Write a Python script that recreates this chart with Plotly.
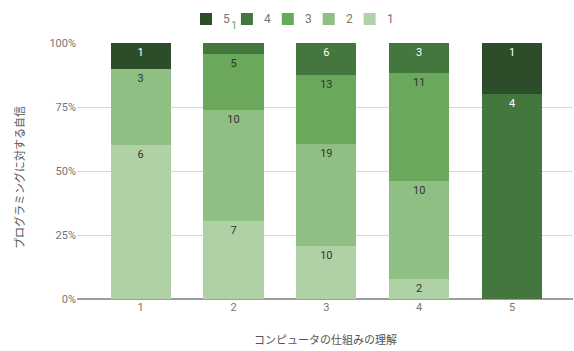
import plotly.graph_objects as go

# Stacked 100% bars: understanding of how computers work (x) vs. confidence in programming (stack)
categories = ["1", "2", "3", "4", "5"]
levels = ["1", "2", "3", "4", "5"]
counts = {
    "1": [6, 7, 10, 2, 0],
    "2": [3, 10, 19, 10, 0],
    "3": [0, 5, 13, 11, 0],
    "4": [0, 1, 6, 3, 4],
    "5": [1, 0, 0, 0, 1],
}
colors = {
    "1": "#b0d1a6",
    "2": "#8fbf83",
    "3": "#6aa85c",
    "4": "#43773e",
    "5": "#2c4c2a",
}
label_colors = {"1": "#333333", "2": "#333333", "3": "#333333", "4": "#ffffff", "5": "#ffffff"}
y_ticks = [0, 25, 50, 75, 100]
y_tick_labels = ["0%", "25%", "50%", "75%", "100%"]

totals = [sum(counts[l][i] for l in levels) for i in range(len(categories))]

FONT = "Roboto, 'Noto Sans CJK JP', sans-serif"

# plot-area geometry in pixels, used to place the hand-drawn legend
W, H = 574, 351
M_L, M_R, M_T, M_B = 77, 1, 43, 52
PW, PH = W - M_L - M_R, H - M_T - M_B


def px_x(px):
    return (px - M_L) / PW


def px_y(py):
    return (H - M_B - py) / PH


fig = go.Figure()
for lvl in levels:
    vals = counts[lvl]
    # label a segment only when it is tall enough to hold the number
    texts = [
        str(v) if v > 0 and v / t >= 0.05 else ""
        for v, t in zip(vals, totals)
    ]
    fig.add_trace(go.Bar(
        x=categories,
        y=vals,
        name=lvl,
        text=texts,
        texttemplate="%{text}",
        textposition="inside",
        insidetextanchor="end",
        textangle=0,
        insidetextfont=dict(family=FONT, size=11, color=label_colors[lvl]),
        marker=dict(color=colors[lvl], line=dict(width=0)),
        width=0.647,
        hoverinfo="skip",
        showlegend=False,
    ))

# compact horizontal legend, highest level first
shapes = []
annotations = []
legend_x0 = 200
legend_step = 40.9
for i, lvl in enumerate(reversed(levels)):
    sx = legend_x0 + i * legend_step
    shapes.append(dict(
        type="rect", xref="paper", yref="paper",
        x0=px_x(sx), x1=px_x(sx + 12), y0=px_y(25), y1=px_y(13),
        fillcolor=colors[lvl], line=dict(width=0),
    ))
    annotations.append(dict(
        text=lvl, xref="paper", yref="paper",
        x=px_x(sx + 21), y=px_y(19),
        xanchor="left", yanchor="middle", showarrow=False,
        font=dict(family=FONT, size=12, color="#757575"),
    ))

annotations += [
    dict(
        text="プログラミングに対する自信",
        textangle=-90,
        xref="paper", yref="paper",
        x=px_x(20), y=px_y(178),
        xanchor="center", yanchor="middle",
        showarrow=False,
        font=dict(family=FONT, size=11, color="#555555"),
    ),
    dict(
        text="コンピュータの仕組みの理解",
        xref="paper", yref="paper",
        x=0.5, y=px_y(340),
        xanchor="center", yanchor="middle",
        showarrow=False,
        font=dict(family=FONT, size=11, color="#555555"),
    ),
    dict(
        text="1",
        xref="paper", yref="paper",
        x=px_x(234), y=px_y(25),
        xanchor="center", yanchor="middle",
        showarrow=False,
        font=dict(family=FONT, size=11, color="#6aa84f"),
    ),
]

fig.update_layout(
    width=W,
    height=H,
    margin=dict(l=M_L, r=M_R, t=M_T, b=M_B, autoexpand=False),
    paper_bgcolor="white",
    plot_bgcolor="white",
    barmode="stack",
    barnorm="percent",
    font=dict(family=FONT, size=11, color="#757575"),
    showlegend=False,
    xaxis=dict(
        type="category",
        range=[-0.686, 4.657],
        showgrid=False,
        showline=False,
        ticks="",
        tickfont=dict(family=FONT, size=11, color="#757575"),
        fixedrange=True,
    ),
    yaxis=dict(
        range=[0, 100],
        tickvals=y_ticks,
        ticktext=y_tick_labels,
        showgrid=True,
        gridcolor="#d6d6d6",
        gridwidth=1,
        zeroline=True,
        zerolinecolor="#9e9e9e",
        zerolinewidth=2,
        showline=False,
        ticks="",
        tickfont=dict(family=FONT, size=11, color="#757575"),
        fixedrange=True,
    ),
    shapes=shapes,
    annotations=annotations,
)

fig.write_html("out.html")
